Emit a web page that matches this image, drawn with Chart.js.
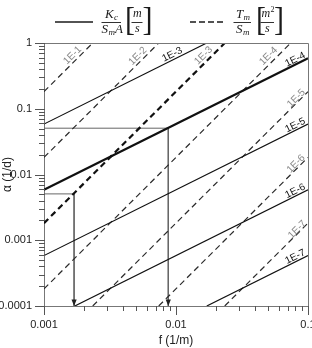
<!DOCTYPE html>
<html><head><meta charset="utf-8">
<script src="https://cdn.jsdelivr.net/npm/chart.js@4.4.1/dist/chart.umd.min.js"></script>
<style>html,body{margin:0;padding:0;background:#fff}#wrap{width:312px;height:348px;position:relative}</style>
</head><body><div id="wrap"><canvas id="c" width="312" height="348"></canvas></div>
<script>
// ---- data ----
const solidParams = ['1E-3', '1E-4', '1E-5', '1E-6', '1E-7'];
const solidStartF = [0.001, 0.001, 0.001, 0.00171, 0.0171];
const solidStartA = [0.0585, 0.00585, 0.000585, 0.0001, 0.0001];
const solidEndF   = [0.0171, 0.1, 0.1, 0.1, 0.1];
const solidEndA   = [1, 0.585, 0.0585, 0.00585, 0.000585];

const dashParams = ['1E-1', '1E-2', '1E-3', '1E-4', '1E-5', '1E-6', '1E-7'];
const dashStartF = [0.001, 0.001, 0.001, 0.001, 0.00234, 0.0074, 0.0234];
const dashStartA = [0.182, 0.0182, 0.00182, 0.000182, 0.0001, 0.0001, 0.0001];
const dashEndF   = [0.00234, 0.0074, 0.0234, 0.074, 0.1, 0.1, 0.1];
const dashEndA   = [1, 1, 1, 1, 0.182, 0.0182, 0.00182];

const refPathF = [[0.001, 0.00874, 0.00874], [0.001, 0.00169, 0.00169]];
const refPathA = [[0.0506, 0.0506, 0.0001], [0.00507, 0.00507, 0.0001]];

const xTickValues = [0.001, 0.01, 0.1];
const xTickLabels = ['0.001', '0.01', '0.1'];
const yTickValues = [0.0001, 0.001, 0.01, 0.1, 1];
const yTickLabels = ['0.0001', '0.001', '0.01', '0.1', '1'];
const minorSteps = [2, 3, 4, 5, 6, 7, 8, 9];

// ---- styles ----
const boldSolid = '1E-4', boldDash = '1E-3';
const solidLabelBack = [36, 12, 12, 12, 12];
const solidLabelPerp = [5, 4.5, 4.5, 4.5, 4.5];
const dashLabelBack = [23, 24, 24, 25, 13, 13, 12];
const dashLabelPerp = [5.5, 5.5, 6, 6.5, 3.5, 4, 3];
const FONT = '"Liberation Sans", Arial, sans-serif';
const SERIF = '"Liberation Serif", "Times New Roman", serif';
Chart.defaults.font.family = FONT;

function tickList(majors) {
  const out = [];
  majors.forEach((v, i) => {
    out.push({ value: v, major: true });
    if (i < majors.length - 1) minorSteps.forEach(k => out.push({ value: v * k, major: false }));
  });
  return out;
}
function labelFor(values, labels) {
  return (v) => {
    const i = values.findIndex(t => Math.abs(t - v) / t < 1e-6);
    return i >= 0 ? labels[i] : '';
  };
}

const datasets = [];
solidParams.forEach((p, i) => datasets.push({
  data: [{ x: solidStartF[i], y: solidStartA[i] }, { x: solidEndF[i], y: solidEndA[i] }],
  borderColor: '#111', borderWidth: p === boldSolid ? 2.2 : 1.2,
  pointRadius: 0, fill: false, tension: 0,
  _kind: 'solid', _text: p, _back: solidLabelBack[i], _perp: solidLabelPerp[i]
}));
dashParams.forEach((p, i) => datasets.push({
  data: [{ x: dashStartF[i], y: dashStartA[i] }, { x: dashEndF[i], y: dashEndA[i] }],
  borderColor: p === boldDash ? '#111' : '#2a2a2a', borderWidth: p === boldDash ? 2.2 : 1.2,
  borderDash: [6, 4], pointRadius: 0, fill: false, tension: 0,
  _kind: 'dash', _text: p, _back: dashLabelBack[i], _perp: dashLabelPerp[i]
}));
refPathF.forEach((fs, j) => datasets.push({
  data: fs.map((f, k) => ({ x: f, y: refPathA[j][k] })),
  borderColor: '#666', borderWidth: 1, pointRadius: 0, fill: false, tension: 0,
  _kind: 'ref'
}));

function drawTicks(chart) {
  const ctx = chart.ctx, ca = chart.chartArea;
  const xs = chart.scales.x, ys = chart.scales.y;
  const bottom = Math.round(ca.bottom), left = Math.round(ca.left);
  ctx.save();
  ctx.fillStyle = '#555';
  tickList(xTickValues).forEach(t => {
    const px = Math.round(xs.getPixelForValue(t.value));
    ctx.fillRect(px, bottom, 1, t.major ? 9 : 5);
  });
  tickList(yTickValues).forEach(t => {
    const py = Math.round(ys.getPixelForValue(t.value));
    const len = t.major ? 9 : 5;
    ctx.fillRect(left - len, py, len + 1, 1);
  });
  ctx.restore();
}

const decor = {
  id: 'decor',
  afterDatasetsDraw(chart) {
    const ctx = chart.ctx, ca = chart.chartArea;
    ctx.save();
    ctx.setLineDash([]);
    ctx.strokeStyle = '#777'; ctx.lineWidth = 1;
    ctx.beginPath();
    ctx.moveTo(Math.round(ca.left) + 0.5, Math.round(ca.top) + 0.5);
    ctx.lineTo(Math.round(ca.right) + 0.5, Math.round(ca.top) + 0.5);
    ctx.lineTo(Math.round(ca.right) + 0.5, Math.round(ca.bottom) + 0.5);
    ctx.stroke();
    chart.data.datasets.forEach((ds, i) => {
      if (ds._kind !== 'ref') return;
      const pts = chart.getDatasetMeta(i).data;
      const p = pts[pts.length - 1];
      ctx.fillStyle = '#222';
      ctx.beginPath();
      ctx.moveTo(p.x, p.y); ctx.lineTo(p.x - 2.6, p.y - 6.5); ctx.lineTo(p.x + 2.6, p.y - 6.5);
      ctx.closePath(); ctx.fill();
    });
    ctx.font = '10px ' + FONT;
    ctx.textAlign = 'center'; ctx.textBaseline = 'middle';
    chart.data.datasets.forEach((ds, i) => {
      if (ds._kind !== 'solid' && ds._kind !== 'dash') return;
      const pts = chart.getDatasetMeta(i).data;
      const a = pts[0], b = pts[1];
      let dx = b.x - a.x, dy = b.y - a.y;
      const L = Math.hypot(dx, dy); dx /= L; dy /= L;
      const nx = dy, ny = -dx;
      const cx = b.x - dx * ds._back + nx * ds._perp;
      const cy = b.y - dy * ds._back + ny * ds._perp;
      ctx.save();
      ctx.translate(cx, cy);
      ctx.rotate(Math.atan2(dy, dx));
      ctx.fillStyle = ds._kind === 'solid' ? '#111' : '#8a8a8a';
      ctx.fillText(ds._text, 0, 0);
      ctx.restore();
    });
    ctx.restore();
  },
  afterDraw(chart) {
    drawTicks(chart);
    const ctx = chart.ctx;
    ctx.save();
    ctx.fillStyle = '#1a1a1a'; ctx.strokeStyle = '#1a1a1a';
    const it = (s) => 'italic ' + s + 'px ' + SERIF;
    const txt = (t, x, y, f) => { ctx.font = f; ctx.textAlign = 'left'; ctx.textBaseline = 'alphabetic'; ctx.fillText(t, x, y); };
    const bar = (x1, x2, y) => { ctx.lineWidth = 0.9; ctx.beginPath(); ctx.moveTo(x1, y); ctx.lineTo(x2, y); ctx.stroke(); };
    const bracket = (t, x, top, bottom) => {
      ctx.font = '30px ' + SERIF; ctx.textAlign = 'left'; ctx.textBaseline = 'alphabetic';
      const m = ctx.measureText(t);
      const h = m.actualBoundingBoxAscent + m.actualBoundingBoxDescent;
      const sc = (bottom - top) / h;
      ctx.save(); ctx.translate(x, top); ctx.scale(1, sc);
      ctx.fillText(t, 0, m.actualBoundingBoxAscent); ctx.restore();
    };
    ctx.lineWidth = 1.3; ctx.setLineDash([]);
    ctx.beginPath(); ctx.moveTo(55, 22); ctx.lineTo(93, 22); ctx.stroke();
    txt('K', 105, 18, it(13)); txt('c', 114, 20, it(9));
    bar(101.5, 121, 22.5);
    txt('S', 101.5, 33, it(13)); txt('m', 108.5, 35, it(9)); txt('A', 115, 33, it(13));
    bracket('[', 125, 8, 36);
    txt('m', 133, 17, it(12));
    bar(131.5, 142.5, 22.5);
    txt('s', 135, 32, it(12));
    bracket(']', 142.5, 8, 36);
    ctx.lineWidth = 1.3; ctx.setLineDash([6, 3]);
    ctx.beginPath(); ctx.moveTo(190, 22); ctx.lineTo(223, 22); ctx.stroke();
    ctx.setLineDash([]);
    txt('T', 236, 18, it(13)); txt('m', 243.5, 20, it(9));
    bar(233.5, 251, 22.5);
    txt('S', 236, 33, it(13)); txt('m', 243, 35, it(9));
    bracket('[', 256, 8, 36);
    txt('m', 261.5, 17, it(12)); txt('2', 270.5, 12, '8px ' + SERIF);
    bar(260.5, 274, 22.5);
    txt('s', 265, 32, it(12));
    bracket(']', 274, 8, 36);
    ctx.restore();
  }
};

new Chart(document.getElementById('c'), {
  type: 'line',
  data: { datasets },
  options: {
    responsive: false, animation: false, events: [],
    layout: { padding: { top: 43, right: 4, left: 0, bottom: 0 } },
    plugins: { legend: { display: false }, tooltip: { enabled: false } },
    scales: {
      x: {
        type: 'logarithmic', position: 'bottom', min: 0.001, max: 0.1,
        afterBuildTicks: s => { s.ticks = tickList(xTickValues); },
        afterFit: s => { s.height = 42; s.paddingLeft = 0; s.paddingRight = 0; },
        grid: { drawOnChartArea: false, drawTicks: true, tickLength: 9, tickColor: 'rgba(0,0,0,0)' },
        border: { display: true, color: '#777', width: 1 },
        ticks: { autoSkip: false, maxRotation: 0, minRotation: 0, padding: 3, color: '#222',
                 font: { size: 11, family: FONT }, callback: labelFor(xTickValues, xTickLabels) },
        title: { display: true, text: 'f (1/m)', color: '#222', font: { size: 12, family: FONT }, padding: { top: 0, bottom: 0 } }
      },
      y: {
        type: 'logarithmic', position: 'left', min: 0.0001, max: 1,
        afterBuildTicks: s => { s.ticks = tickList(yTickValues); },
        afterFit: s => { s.width = 44; s.paddingTop = 0; s.paddingBottom = 0; },
        grid: { drawOnChartArea: false, drawTicks: true, tickLength: 9, tickColor: 'rgba(0,0,0,0)' },
        border: { display: true, color: '#777', width: 1 },
        ticks: { autoSkip: false, padding: 3, color: '#222',
                 font: { size: 11, family: FONT }, callback: labelFor(yTickValues, yTickLabels) },
        title: { display: true, text: 'α (1/d)', color: '#222', font: { size: 12, family: FONT }, padding: { top: 0, bottom: 0 } }
      }
    }
  },
  plugins: [decor]
});
</script></body></html>
